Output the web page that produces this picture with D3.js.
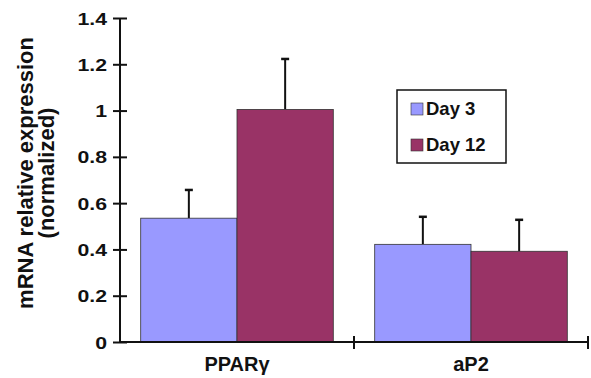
<!DOCTYPE html>
<html>
<head>
<meta charset="utf-8">
<script src="https://cdn.jsdelivr.net/npm/d3@7"></script>
<style>
  body { margin: 0; background: #fff; }
  text { font-family: "Liberation Sans", Arial, sans-serif; font-weight: bold; }
</style>
</head>
<body>
<script>
//chart data
var genes = ["PPARγ", "aP2"];
var days = ["Day 3", "Day 12"];
var means = [[0.535, 1.005], [0.422, 0.392]];
var errors = [[0.122, 0.218], [0.119, 0.136]];
var yTicks = [0, 0.2, 0.4, 0.6, 0.8, 1, 1.2, 1.4];
var colors = ["#9999ff", "#993366"];

var width = 591, height = 378;

var svg = d3.select("body").append("svg")
    .attr("width", width)
    .attr("height", height);

//scales
var x = d3.scaleBand().domain(genes).range([120, 588]).paddingInner(0).paddingOuter(0);
var xInner = d3.scaleBand().domain(days).range([0, x.bandwidth()]).paddingInner(0).paddingOuter(0.215);
var y = d3.scaleLinear().domain([0, 1.4]).range([342, 18]);

//bars
var groups = svg.selectAll(".grp")
    .data(genes)
    .enter().append("g")
    .attr("class", "grp")
    .attr("transform", function(d){ return "translate(" + x(d) + ",0)"; });

groups.each(function(g, gi){
    var grp = d3.select(this);
    var rows = days.map(function(day, di){
        return {day: day, v: means[gi][di], e: errors[gi][di], c: colors[di]};
    });
    var cx = function(d){ return xInner(d.day) + xInner.bandwidth() / 2; };
    grp.selectAll(".err")
        .data(rows).enter().append("line")
        .attr("x1", cx).attr("x2", cx)
        .attr("y1", function(d){ return y(d.v); })
        .attr("y2", function(d){ return y(d.v + d.e); })
        .attr("stroke", "#111").attr("stroke-width", 2);
    grp.selectAll(".cap")
        .data(rows).enter().append("line")
        .attr("x1", function(d){ return cx(d) - 4; })
        .attr("x2", function(d){ return cx(d) + 4; })
        .attr("y1", function(d){ return y(d.v + d.e); })
        .attr("y2", function(d){ return y(d.v + d.e); })
        .attr("stroke", "#111").attr("stroke-width", 2.5);
    grp.selectAll("rect")
        .data(rows).enter().append("rect")
        .attr("x", function(d){ return xInner(d.day); })
        .attr("width", xInner.bandwidth())
        .attr("y", function(d){ return y(d.v); })
        .attr("height", function(d){ return y(0) - y(d.v); })
        .attr("fill", function(d){ return d.c; })
        .attr("stroke", "#333").attr("stroke-width", 0.8);
});

//y axis
var labelStretch = 1.25;
var yAxis = svg.append("g")
    .attr("transform", "translate(120,0)")
    .call(d3.axisLeft(y).tickValues(yTicks).tickFormat(d3.format("~g")).tickSize(7).tickPadding(6));
yAxis.selectAll(".tick line").attr("x2", 7).attr("x1", -7).attr("stroke", "#111").attr("stroke-width", 2);
yAxis.select(".domain").attr("d", "M0," + y(1.4) + "V" + y(0)).attr("stroke", "#111").attr("stroke-width", 2);
//the labels in the original are drawn a little wide
yAxis.selectAll(".tick text").attr("fill", "#111").attr("dy", "0.36em")
    .attr("x", -13 / labelStretch)
    .attr("transform", "scale(" + labelStretch + ",1)")
    .style("font-size", "17px")
    .style("font-family", "'Liberation Sans', Arial, sans-serif").style("font-weight", "bold");

//x axis
var xAxis = svg.append("g")
    .attr("transform", "translate(0," + y(0) + ")")
    .call(d3.axisBottom(x).tickSize(0).tickPadding(0));
xAxis.select(".domain").attr("stroke", "#111").attr("stroke-width", 2).attr("d", "M120,0H588");
xAxis.selectAll("text").attr("fill", "#111").attr("dy", null).attr("y", 29)
    .style("font-size", "20px")
    .style("font-family", "'Liberation Sans', Arial, sans-serif").style("font-weight", "bold");
//category separator ticks
xAxis.selectAll(".sep")
    .data(genes).enter().append("line")
    .attr("x1", function(d){ return x(d) + x.bandwidth(); })
    .attr("x2", function(d){ return x(d) + x.bandwidth(); })
    .attr("y1", -6).attr("y2", 7)
    .attr("stroke", "#111").attr("stroke-width", 2);

//y axis title
var yTitle = svg.append("text")
    .attr("transform", "translate(33,173) rotate(-90)")
    .attr("text-anchor", "middle")
    .style("font-size", "22px")
    .attr("fill", "#111");
yTitle.append("tspan").attr("x", 0).attr("dy", 0).text("mRNA relative expression");
yTitle.append("tspan").attr("x", 0).attr("dy", 21).text("(normalized)");

//legend
var legend = svg.append("g").attr("transform", "translate(397,90)");
legend.append("rect")
    .attr("width", 109).attr("height", 73)
    .attr("fill", "#fff").attr("stroke", "#111").attr("stroke-width", 1.5);
var items = legend.selectAll(".item")
    .data(days).enter().append("g")
    .attr("transform", function(d, i){ return "translate(14," + (25 + i * 36) + ")"; });
items.append("rect")
    .attr("x", 0).attr("y", -12).attr("width", 12).attr("height", 12)
    .attr("fill", function(d, i){ return colors[i]; })
    .attr("stroke", "#333").attr("stroke-width", 0.6);
items.append("text")
    .attr("x", 15).attr("y", 0)
    .style("font-size", "18.5px").attr("fill", "#111")
    .text(function(d){ return d; });
</script>
</body>
</html>
